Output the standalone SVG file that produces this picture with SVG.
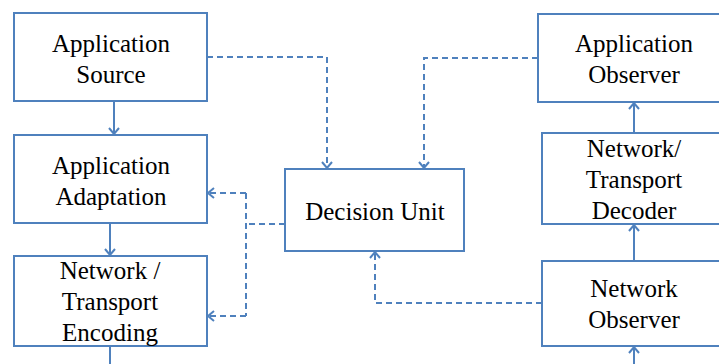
<svg xmlns="http://www.w3.org/2000/svg" width="719" height="364" viewBox="0 0 719 364">
<style>
.box{fill:#fff;stroke:#4f81bd;stroke-width:2}
.c{fill:none;stroke:#4f81bd;stroke-width:2}
.d{stroke-dasharray:6,4}
</style>
<defs>
<marker id="a" markerUnits="userSpaceOnUse" markerWidth="12" markerHeight="12" viewBox="0 0 12 12" refX="10" refY="6" orient="auto">
<path d="M4,1 L10,6 L4,11" fill="none" stroke="#4f81bd" stroke-width="2"/>
</marker>
</defs>
<rect width="719" height="364" fill="#fff"/>
<g id="connectors">
<path class="c" d="M114,101 V134" marker-end="url(#a)"/>
<path class="c" d="M110,223 V255" marker-end="url(#a)"/>
<path class="c" d="M110,346 V364"/>
<path class="c" d="M634,133 V103" marker-end="url(#a)"/>
<path class="c" d="M634,261 V225" marker-end="url(#a)"/>
<path class="c" d="M634,364 V347" marker-end="url(#a)"/>
<path class="c d" d="M207,57 H327 V168" marker-end="url(#a)"/>
<path class="c d" d="M538,58 H424 V168" marker-end="url(#a)"/>
<path class="c d" d="M285,224 H246"/>
<path class="c d" d="M246,193 V316"/>
<path class="c d" d="M246,193 H208" marker-end="url(#a)"/>
<path class="c d" d="M246,316 H208" marker-end="url(#a)"/>
<path class="c d" d="M542,303 H375 V252" marker-end="url(#a)"/>
</g>
<g id="app-source">
<rect class="box" x="14" y="13" width="193" height="88"/>
<text x="111" y="52" style="font-family:'Liberation Serif';font-size:25px;text-anchor:middle">Application</text>
<text x="111" y="83" style="font-family:'Liberation Serif';font-size:25px;text-anchor:middle">Source</text>
</g>
<g id="app-adaptation">
<rect class="box" x="14" y="135" width="193" height="88"/>
<text x="111" y="174" style="font-family:'Liberation Serif';font-size:25px;text-anchor:middle">Application</text>
<text x="111" y="205" style="font-family:'Liberation Serif';font-size:25px;text-anchor:middle">Adaptation</text>
</g>
<g id="nt-encoding">
<rect class="box" x="14" y="256" width="193" height="90"/>
<text x="110" y="279" style="font-family:'Liberation Serif';font-size:25px;text-anchor:middle">Network /</text>
<text x="110" y="310" style="font-family:'Liberation Serif';font-size:25px;text-anchor:middle">Transport</text>
<text x="110" y="341" style="font-family:'Liberation Serif';font-size:25px;text-anchor:middle">Encoding</text>
</g>
<g id="decision-unit">
<rect class="box" x="285" y="169" width="179" height="82"/>
<text x="375" y="220" style="font-family:'Liberation Serif';font-size:25px;text-anchor:middle">Decision Unit</text>
</g>
<g id="app-observer">
<rect class="box" x="538" y="14" width="200" height="88"/>
<text x="634" y="52" style="font-family:'Liberation Serif';font-size:25px;text-anchor:middle">Application</text>
<text x="634" y="83" style="font-family:'Liberation Serif';font-size:25px;text-anchor:middle">Observer</text>
</g>
<g id="nt-decoder">
<rect class="box" x="542" y="133" width="200" height="91"/>
<text x="634" y="157" style="font-family:'Liberation Serif';font-size:25px;text-anchor:middle">Network/</text>
<text x="634" y="188" style="font-family:'Liberation Serif';font-size:25px;text-anchor:middle">Transport</text>
<text x="634" y="219" style="font-family:'Liberation Serif';font-size:25px;text-anchor:middle">Decoder</text>
</g>
<g id="network-observer">
<rect class="box" x="542" y="261" width="200" height="85"/>
<text x="634" y="297" style="font-family:'Liberation Serif';font-size:25px;text-anchor:middle">Network</text>
<text x="634" y="328" style="font-family:'Liberation Serif';font-size:25px;text-anchor:middle">Observer</text>
</g>
</svg>
